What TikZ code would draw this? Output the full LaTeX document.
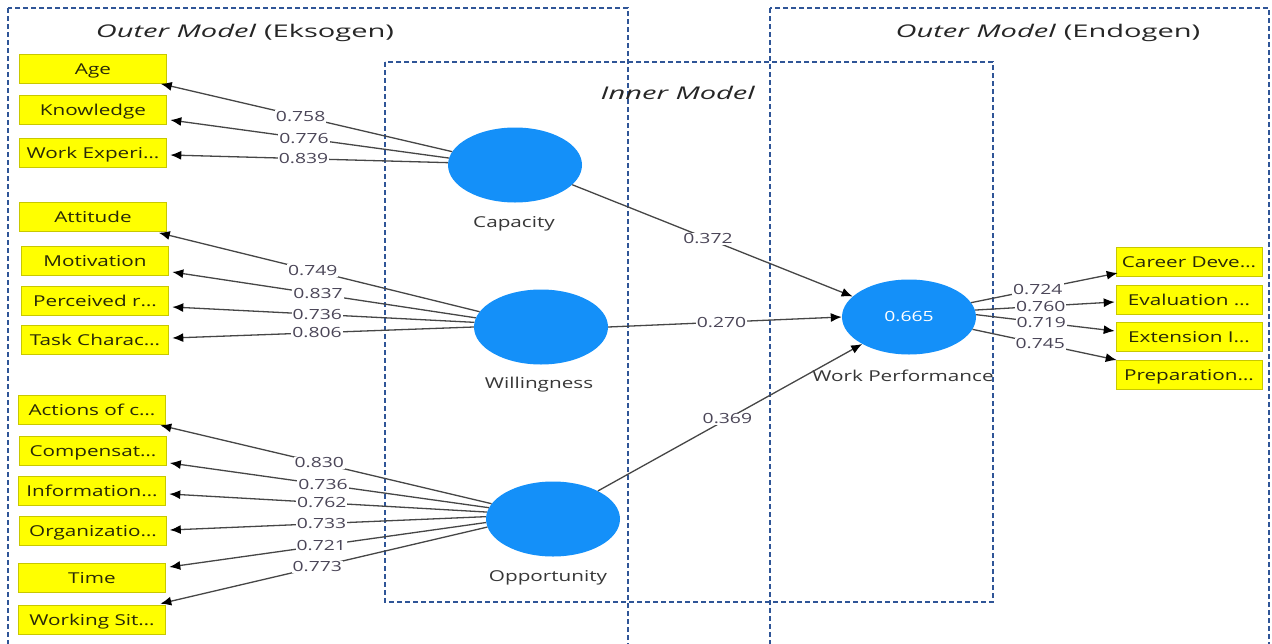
\documentclass[tikz,border=0pt]{standalone}
\usepackage{fontspec}
\setmainfont{Open Sans}
\usetikzlibrary{arrows.meta,calc,shapes.geometric}

\definecolor{plsblue}{RGB}{20,144,249}
\definecolor{boxyellow}{RGB}{255,255,0}
\definecolor{boxedge}{RGB}{200,200,0}
\definecolor{boxtext}{RGB}{40,40,8}
\definecolor{pathgray}{RGB}{70,70,70}
\definecolor{coeftext}{RGB}{75,70,88}
\definecolor{captiongray}{RGB}{55,55,55}
\definecolor{frameblue}{RGB}{47,85,151}

% text is set a little wider than the font draws it
\newcommand{\stretchtext}[1]{\scalebox{1.38}[1]{#1}}
\newcommand{\stretchhead}[1]{\scalebox{1.66}[1]{#1}}

\begin{document}
\begin{tikzpicture}[x=1pt,y=-1pt,
  indicator/.style={draw=boxedge, fill=boxyellow, line width=0.6pt,
    minimum width=147pt, minimum height=29pt, inner sep=0pt,
    text height=13pt, text depth=3pt,
    text=boxtext, font=\fontsize{15}{18}\selectfont},
  latent/.style={ellipse, fill=plsblue, minimum width=134pt,
    minimum height=75pt, inner sep=0pt, text=white,
    font=\fontsize{14}{16}\selectfont},
  caption/.style={text=captiongray, inner sep=0pt, font=\fontsize{15}{18}\selectfont},
  heading/.style={text=black!85, inner sep=0pt, font=\fontsize{17.5}{20}\selectfont},
  frame/.style={draw=frameblue, line width=1.1pt, dash pattern=on 5pt off 3pt},
  loading/.style={draw=pathgray, line width=1.3pt,
    -{Latex[length=11pt,width=9pt,color=black]}},
  coef/.style={fill=white, inner sep=1pt, text=coeftext,
    font=\fontsize{14}{16}\selectfont, pos=0.52},
]
\useasboundingbox (0,0) rectangle (1272,643);
\clip (0,0) rectangle (1272,643);
\fill[white] (0,0) rectangle (1272,643);

% dashed model frames
\draw[frame] (8,8) rectangle (628,670);
\draw[frame] (770,8) rectangle (1269,670);
\draw[frame] (385,62) rectangle (993,602);

% headings
\node[heading] (hex) at (245,33) {\stretchhead{\textit{Outer Model} (Eksogen)}};
\node[heading] (hen) at (1048,33) {\stretchhead{\textit{Outer Model} (Endogen)}};
\node[heading] (hin) at (678,93) {\stretchhead{\textit{Inner Model}}};

% latent variables
\node[latent] (cap)  at (515,165) {};
\node[latent] (will) at (541,327) {};
\node[latent] (opp)  at (553,519) {};
\node[latent] (wp)   at (909,317) {\stretchtext{0.665}};

\node[caption] (capL)  at (514,224) {\stretchtext{Capacity}};
\node[caption] (willL) at (539,385) {\stretchtext{Willingness}};
\node[caption] (oppL)  at (548,578) {\stretchtext{Opportunity}};
\node[caption] (wpL)   at (903,376) {\stretchtext{Work Performance}};

% exogenous indicators
\node[indicator] (age)  at (93,69)  {\stretchtext{Age}};
\node[indicator] (know) at (93,110) {\stretchtext{Knowledge}};
\node[indicator] (wexp) at (93,153) {\stretchtext{Work Experi…}};
\node[indicator] (att)  at (93,217) {\stretchtext{Attitude}};
\node[indicator] (motv) at (95,261) {\stretchtext{Motivation}};
\node[indicator] (perc) at (95,301) {\stretchtext{Perceived r…}};
\node[indicator] (task) at (95,340) {\stretchtext{Task Charac…}};
\node[indicator] (act)  at (92,410) {\stretchtext{Actions of c…}};
\node[indicator] (comp) at (93,451) {\stretchtext{Compensat…}};
\node[indicator] (info) at (92,491) {\stretchtext{Information…}};
\node[indicator] (org)  at (93,531) {\stretchtext{Organizatio…}};
\node[indicator] (time) at (92,578) {\stretchtext{Time}};
\node[indicator] (wsit) at (92,620) {\stretchtext{Working Sit…}};

% endogenous indicators
\node[indicator, minimum width=146pt] (car)  at (1189,262) {\stretchtext{Career Deve…}};
\node[indicator, minimum width=146pt] (eval) at (1189,300) {\stretchtext{Evaluation …}};
\node[indicator, minimum width=146pt] (ext)  at (1189,337) {\stretchtext{Extension I…}};
\node[indicator, minimum width=146pt] (prep) at (1189,375) {\stretchtext{Preparation…}};

% outer loadings: Capacity
\draw[loading] (cap.168) -- node[coef]{\stretchtext{0.758}} ($(age.south east)+(-6,0)$);
\draw[loading] (cap.174) -- node[coef]{\stretchtext{0.776}} ($(know.east)+(3.5,10)$);
\draw[loading] (cap.178) -- node[coef]{\stretchtext{0.839}} ($(wexp.east)+(3.5,2)$);

% outer loadings: Willingness
\draw[loading] (will.166) -- node[coef]{\stretchtext{0.749}} ($(att.south east)+(-8,1)$);
\draw[loading] (will.172) -- node[coef]{\stretchtext{0.837}} ($(motv.east)+(3.5,11)$);
\draw[loading] (will.176) -- node[coef]{\stretchtext{0.736}} ($(perc.east)+(3.5,6)$);
\draw[loading] (will.180) -- node[coef]{\stretchtext{0.806}} ($(task.east)+(3.5,-2)$);

% outer loadings: Opportunity
\draw[loading] (opp.166) -- node[coef]{\stretchtext{0.830}} ($(act.south east)+(-5.5,0.5)$);
\draw[loading] (opp.170) -- node[coef]{\stretchtext{0.736}} ($(comp.east)+(3,12)$);
\draw[loading] (opp.174) -- node[coef]{\stretchtext{0.762}} ($(info.east)+(3.5,3)$);
\draw[loading] (opp.178) -- node[coef]{\stretchtext{0.733}} ($(org.east)+(3,-1)$);
\draw[loading] (opp.183) -- node[coef]{\stretchtext{0.721}} ($(time.east)+(3.5,-11)$);
\draw[loading] (opp.187) -- node[coef]{\stretchtext{0.773}} ($(wsit.north east)+(-5.5,-1.5)$);

% path coefficients
\draw[loading] (cap.-19) -- node[coef, pos=0.484]{\stretchtext{0.372}} (wp.160);
\draw[loading] (will.east) -- node[coef, pos=0.485]{\stretchtext{0.270}} (wp.west);
\draw[loading] (opp.32) -- node[coef, pos=0.49]{\stretchtext{0.369}} (wp.210);

% outer loadings: Work Performance
\draw[loading] (wp.13) -- node[coef, pos=0.455]{\stretchtext{0.724}} ($(car.west)+(2,11)$);
\draw[loading] (wp.6)  -- node[coef, pos=0.47]{\stretchtext{0.760}} ($(eval.west)+(-1,2)$);
\draw[loading] (wp.2)  -- node[coef, pos=0.47]{\stretchtext{0.719}} ($(ext.west)+(-1,-6)$);
\draw[loading] (wp.-11) -- node[coef, pos=0.47]{\stretchtext{0.745}} ($(prep.west)+(1,-15)$);
\end{tikzpicture}
\end{document}
